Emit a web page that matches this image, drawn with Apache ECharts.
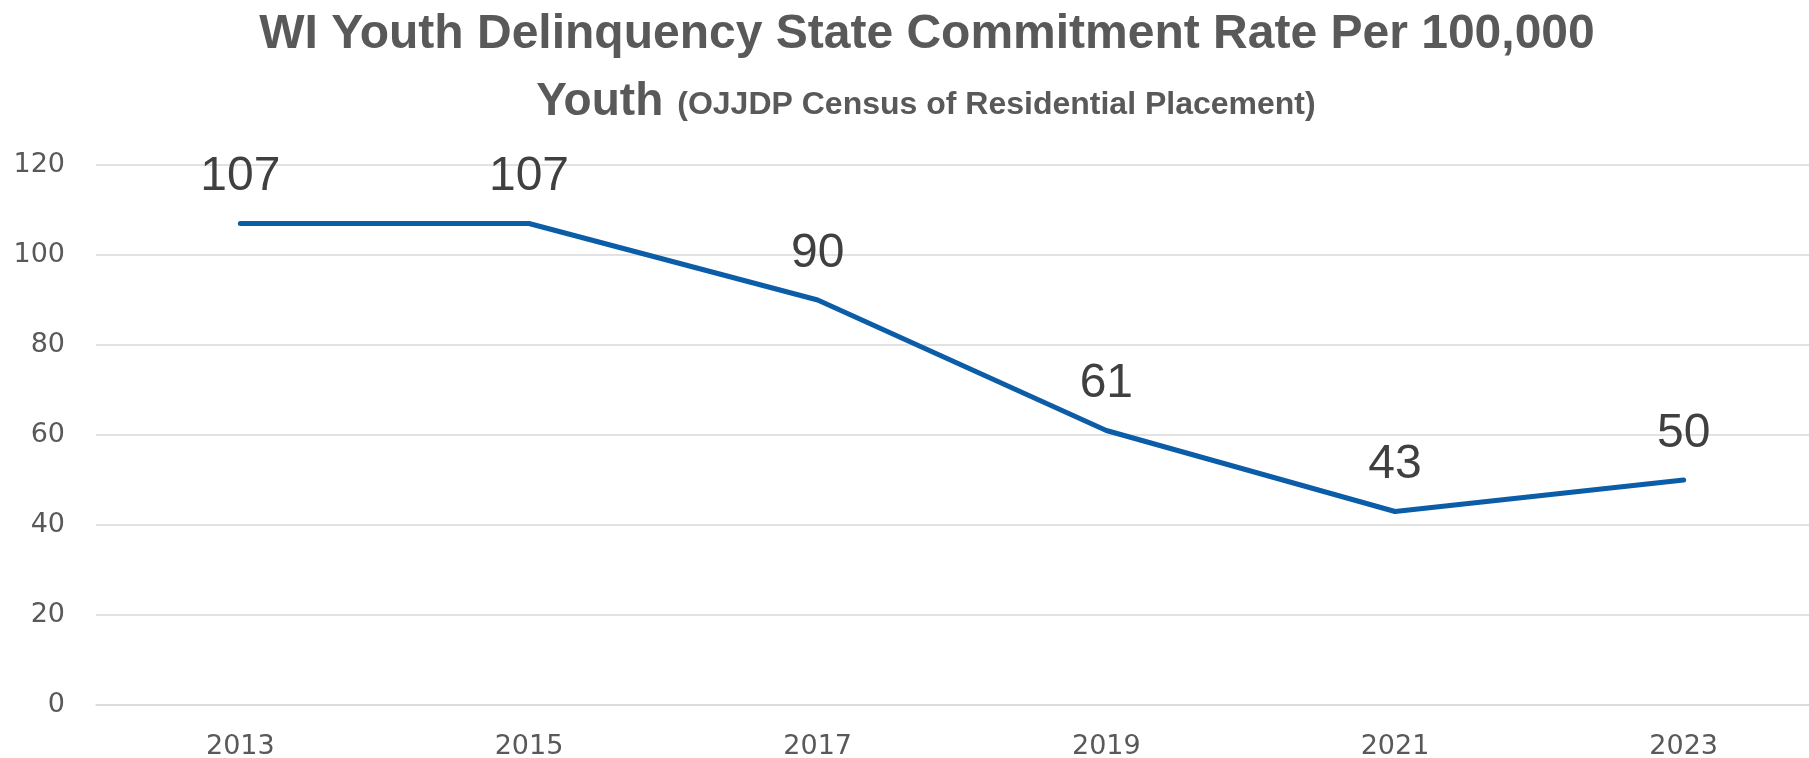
<!DOCTYPE html>
<html>
<head>
<meta charset="utf-8">
<script src="https://cdn.jsdelivr.net/npm/echarts@6/dist/echarts.min.js"></script>
<style>
html,body{margin:0;padding:0;background:#fff;}
#chart{width:1809px;height:758px;}
</style>
</head>
<body>
<div id="chart"></div>
<script>
const years = ['2013', '2015', '2017', '2019', '2021', '2023'];
const rates = [107, 107, 90, 61, 43, 50];
const yTicks = { min: 0, max: 120, interval: 20 };
const titleLine1 = 'WI Youth Delinquency State Commitment Rate Per 100,000';
const titleLine2Big = 'Youth';
const titleLine2Small = '(OJJDP Census of Residential Placement)';

const chart = echarts.init(document.getElementById('chart'), null, { renderer: 'canvas' });
const FONT = '"Liberation Sans", Arial, sans-serif';
const AXFONT = '"DejaVu Sans", "Liberation Sans", sans-serif';
chart.setOption({
  backgroundColor: '#ffffff',
  animation: false,
  graphic: [
    {
      type: 'text',
      x: 927, y: 35,
      style: {
        text: titleLine1,
        fontFamily: FONT, fontWeight: 'bold', fontSize: 48,
        fill: '#595959', align: 'center', verticalAlign: 'middle'
      }
    },
    {
      type: 'text',
      x: 926, y: 100,
      style: {
        text: '{a|' + titleLine2Big + '}{s| }{b|' + titleLine2Small + '}',
        fontFamily: FONT, fontWeight: 'bold',
        fill: '#595959', align: 'center', verticalAlign: 'middle',
        rich: {
          a: { fontFamily: FONT, fontWeight: 'bold', fontSize: 46, fill: '#595959', lineHeight: 50, verticalAlign: 'bottom' },
          s: { fontFamily: FONT, fontSize: 20, width: 14, lineHeight: 50, verticalAlign: 'bottom' },
          b: { fontFamily: FONT, fontWeight: 'bold', fontSize: 32, fill: '#595959', lineHeight: 50, verticalAlign: 'bottom', padding: [0, 0, 4, 0] }
        }
      }
    }
  ],
  grid: { left: 96, top: 165, width: 1732, height: 540, containLabel: false, outerBoundsMode: 'none' },
  xAxis: {
    type: 'category',
    data: years,
    boundaryGap: true,
    axisLine: { show: true, lineStyle: { color: '#d9d9d9', width: 1.5 } },
    axisTick: { show: false },
    axisLabel: { color: '#595959', fontSize: 27, fontFamily: AXFONT, margin: 28 },
    splitLine: { show: false }
  },
  yAxis: {
    type: 'value',
    min: yTicks.min, max: yTicks.max, interval: yTicks.interval,
    axisLine: { show: false },
    axisTick: { show: false },
    axisLabel: { color: '#595959', fontSize: 27, fontFamily: AXFONT, margin: 31 },
    splitLine: { lineStyle: { color: '#d9d9d9', width: 1.5 } }
  },
  series: [{
    type: 'line',
    data: rates,
    symbol: 'circle',
    symbolSize: 1,
    showSymbol: true,
    itemStyle: { color: 'rgba(0,0,0,0)' },
    lineStyle: { color: '#0B5DA8', width: 5, cap: 'round', join: 'round' },
    label: {
      show: true, position: 'top', distance: 22,
      color: '#404040', fontSize: 48, fontFamily: FONT
    },
    emphasis: { disabled: true }
  }]
});
</script>
</body>
</html>
